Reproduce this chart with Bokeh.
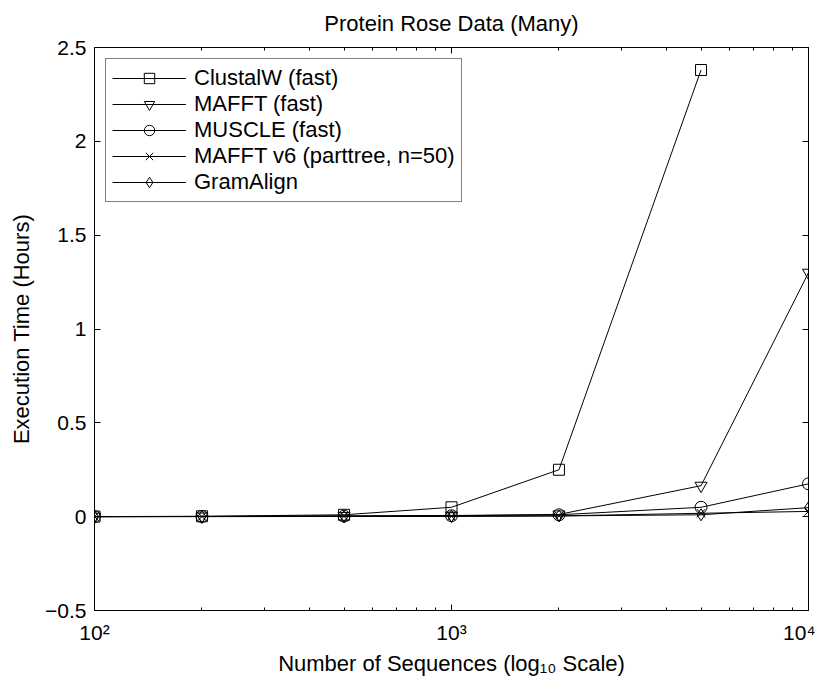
from bokeh.plotting import figure
from bokeh.models import Range1d, FixedTicker, LogAxis, LinearAxis, Legend, LegendItem
from bokeh.embed import file_html
from bokeh.resources import INLINE

# ---- data ----
n_seq = [100, 200, 500, 1000, 2000, 5000, 10000]
clustalw = [0.0005, 0.002, 0.01, 0.05, 0.25, 2.38]
mafft = [0.0003, 0.001, 0.004, 0.006, 0.012, 0.165, 1.30]
muscle = [0.0002, 0.001, 0.003, 0.005, 0.01, 0.05, 0.175]
mafft_v6 = [0.0002, 0.0005, 0.001, 0.002, 0.004, 0.018, 0.028]
gramalign = [0.0001, 0.0004, 0.001, 0.002, 0.004, 0.01, 0.048]

series_names = ["ClustalW (fast)", "MAFFT (fast)", "MUSCLE (fast)",
                "MAFFT v6 (parttree, n=50)", "GramAlign"]
series_values = [clustalw, mafft, muscle, mafft_v6, gramalign]
series_markers = ["square", "inverted_triangle", "circle", "x", "diamond"]

x_major = [100, 1000, 10000]
x_major_labels = ["10\u00b2", "10\u00b3", "10\u2074"]
x_minor = [200, 300, 400, 500, 600, 700, 800, 900,
           2000, 3000, 4000, 5000, 6000, 7000, 8000, 9000]
y_ticks = [-0.5, 0, 0.5, 1, 1.5, 2, 2.5]
y_tick_labels = ["\u22120.5", "0", "0.5", "1", "1.5", "2", "2.5"]
x_label_text = "Number of Sequences (log\u2081\u2080 Scale)"
y_label_text = "Execution Time (Hours)"
title_text = "Protein Rose Data (Many)"

FONT = "Liberation Sans"

p = figure(frame_width=714, frame_height=563, x_axis_type="log",
           x_range=Range1d(100, 10000), y_range=Range1d(-0.5, 2.5),
           output_backend="svg", toolbar_location=None,
           min_border_left=94, min_border_right=7,
           min_border_top=47, min_border_bottom=60)

p.background_fill_color = "white"
p.border_fill_color = "white"
p.outline_line_color = "black"
p.outline_line_width = 1
p.xgrid.visible = False
p.ygrid.visible = False

def style_axis(ax):
    ax.axis_line_color = "black"
    ax.axis_line_width = 1
    ax.major_tick_line_color = "black"
    ax.minor_tick_line_color = "black"
    ax.major_tick_in = 6
    ax.major_tick_out = 0
    ax.minor_tick_in = 3
    ax.minor_tick_out = 0
    ax.major_label_text_font = FONT
    ax.major_label_text_font_size = "21px"
    ax.major_label_text_color = "black"
    ax.axis_label_text_font = FONT
    ax.axis_label_text_font_size = "22px"
    ax.axis_label_text_font_style = "normal"
    ax.axis_label_text_color = "black"

# bottom x axis
xa = p.xaxis[0]
xa.ticker = FixedTicker(ticks=x_major, minor_ticks=x_minor)
xa.major_label_overrides = dict(zip(x_major, x_major_labels))
style_axis(xa)
xa.axis_label = x_label_text
xa.major_label_standoff = 10
xa.axis_label_standoff = 4

# left y axis
ya = p.yaxis[0]
ya.ticker = FixedTicker(ticks=y_ticks)
ya.major_label_overrides = dict(zip(y_ticks, y_tick_labels))
style_axis(ya)
ya.axis_label = y_label_text
ya.major_label_standoff = 8
ya.axis_label_standoff = 8

# top axis (ticks only) carrying the chart title
top = LogAxis(ticker=FixedTicker(ticks=x_major, minor_ticks=x_minor),
              major_label_overrides={t: "" for t in x_major})
style_axis(top)
top.major_label_standoff = 0
top.major_label_text_font_size = "0px"
top.axis_label = title_text
top.axis_label_standoff = 12
p.add_layout(top, "above")

# right axis (ticks only)
right = LinearAxis(ticker=FixedTicker(ticks=y_ticks, minor_ticks=[]),
                   major_label_overrides={t: "" for t in y_ticks})
style_axis(right)
right.major_label_standoff = 0
right.major_label_text_font_size = "0px"
p.add_layout(right, "right")

items = []
for name, vals, mk in zip(series_names, series_values, series_markers):
    xs = n_seq[:len(vals)]
    ln = p.line(xs, vals, line_color="black", line_width=1)
    sc = p.scatter(xs, vals, marker=mk, size=11 if mk == "square" else 12,
                   line_color="black", line_width=1, fill_color="white", fill_alpha=0)
    items.append(LegendItem(label=name, renderers=[ln, sc]))

legend = Legend(items=items, location="top_left", margin=11, padding=6,
                spacing=0, glyph_width=74, glyph_height=26, label_height=26,
                label_standoff=8, border_line_color="black", border_line_width=1,
                background_fill_color="white", background_fill_alpha=1,
                label_text_font=FONT, label_text_font_size="22px",
                label_text_color="black")
p.add_layout(legend)

open("out.html", "w").write(file_html(p, INLINE))
